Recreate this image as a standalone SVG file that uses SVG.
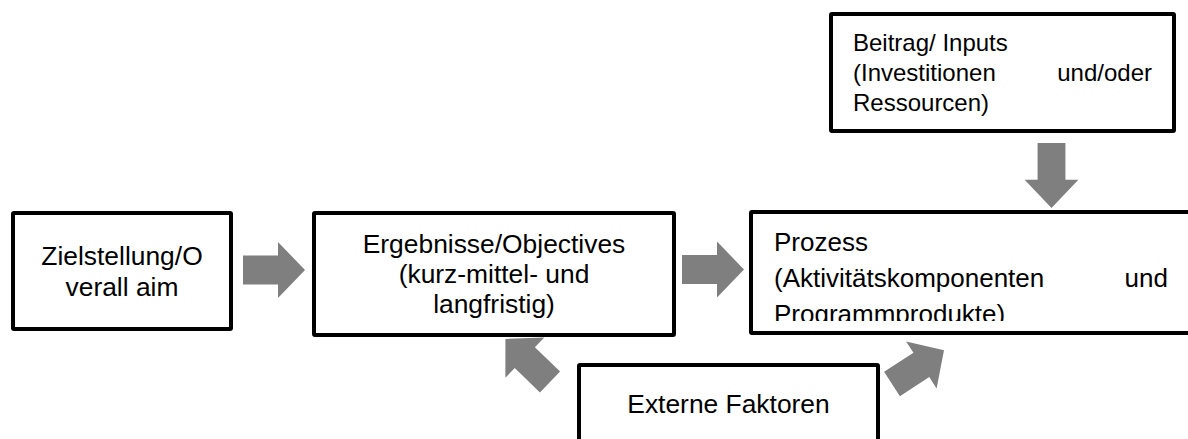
<svg xmlns="http://www.w3.org/2000/svg" xmlns:xlink="http://www.w3.org/1999/xlink" width="1188" height="439" viewBox="0 0 1188 439">
  <style>
    .box { fill: #ffffff; stroke: #000000; stroke-width: 4; stroke-linejoin: round; }
    .lbl { font-family: "Liberation Sans", Arial, sans-serif; fill: #000000; }
    .c { text-anchor: middle; font-size: 26.4px; }
    .arrow { fill: #7f7f7f; }
  </style>
  <defs>
    <!-- block arrow pointing along +x, tail centred at the origin -->
    <path id="blockArrow" d="M0,-14.5 H35 V-28 L62,0 L35,28 V14.5 H0 Z"/>
    <clipPath id="procClip">
      <rect x="753" y="214" width="440" height="107"/>
    </clipPath>
  </defs>
  <rect width="1188" height="439" fill="#ffffff"/>

  <g id="connectors" class="arrow">
    <use xlink:href="#blockArrow" transform="translate(243,270)"/>
    <use xlink:href="#blockArrow" transform="translate(682,269.5)"/>
    <use xlink:href="#blockArrow" transform="translate(1051.5,143) rotate(90) scale(1.05,0.96)"/>
    <use xlink:href="#blockArrow" transform="translate(550,382) rotate(-136)"/>
    <use xlink:href="#blockArrow" transform="translate(892,384) rotate(-33)"/>
  </g>

  <g id="node-zielstellung">
    <rect class="box" x="13" y="213" width="218" height="116" rx="1"/>
    <text class="lbl c" x="122" y="265">Zielstellung/O</text>
    <text class="lbl c" x="122" y="296">verall aim</text>
  </g>

  <g id="node-ergebnisse">
    <rect class="box" x="314" y="213" width="360" height="122" rx="1"/>
    <text class="lbl c" x="494" y="253">Ergebnisse/Objectives</text>
    <text class="lbl c" x="494" y="283">(kurz-mittel- und</text>
    <text class="lbl c" x="494" y="313">langfristig)</text>
  </g>

  <g id="node-prozess">
    <rect class="box" x="751" y="212" width="460" height="121" rx="1"/>
    <g clip-path="url(#procClip)" class="lbl" font-size="26px">
      <text x="774" y="250.5">Prozess</text>
      <text x="774" y="286.5">(Aktivitätskomponenten</text>
      <text x="1168" y="286.5" text-anchor="end">und</text>
      <text x="774" y="322.5">Programmprodukte)</text>
    </g>
  </g>

  <g id="node-beitrag">
    <rect class="box" x="831" y="14" width="343" height="117" rx="1"/>
    <g class="lbl" font-size="24px">
      <text x="853" y="51">Beitrag/ Inputs</text>
      <text x="853" y="81">(Investitionen</text>
      <text x="1152" y="81" text-anchor="end">und/oder</text>
      <text x="853" y="111">Ressourcen)</text>
    </g>
  </g>

  <g id="node-externe">
    <rect class="box" x="579" y="365" width="299" height="100" rx="1"/>
    <text class="lbl c" x="728.5" y="413">Externe Faktoren</text>
  </g>
</svg>
